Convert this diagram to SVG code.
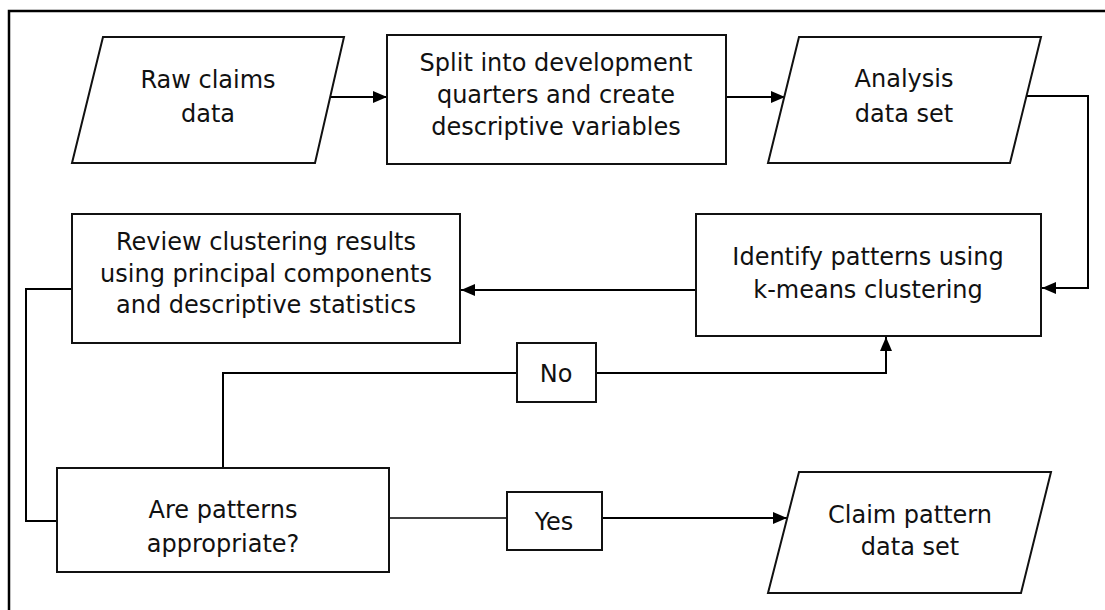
<svg xmlns="http://www.w3.org/2000/svg" width="1105" height="610" viewBox="0 0 1105 610">
  <defs>
    <marker id="arrow" viewBox="0 0 14 12" refX="14" refY="6" markerWidth="14" markerHeight="12" markerUnits="userSpaceOnUse" orient="auto">
      <path d="M0,0 L14,6 L0,12 Z" fill="#000"/>
    </marker>
    <style>
      .shape { fill: #fff; stroke: #111; stroke-width: 2; }
      .label { font-family: "DejaVu Sans", "Liberation Sans", sans-serif; font-size: 24px; fill: #111; text-anchor: middle; }
      .conn { fill: none; stroke: #000; stroke-width: 2; }
      .thin { stroke-width: 1.6; }
      .frame { fill: none; stroke: #000; stroke-width: 2.5; }
    </style>
  </defs>

  <rect width="1105" height="610" fill="#fff"/>
  <!-- page frame: top and left edges -->
  <path class="frame" d="M9,610 V11 H1105"/>

  <g id="connectors">
    <path class="conn" d="M330,97 H387" marker-end="url(#arrow)"/>
    <path class="conn" d="M727,97 H785" marker-end="url(#arrow)"/>
    <path class="conn" d="M1026,96 H1088 V288 H1042" marker-end="url(#arrow)"/>
    <path class="conn" d="M696,290 H461" marker-end="url(#arrow)"/>
    <path class="conn" d="M72,289 H26 V521 H57"/>
    <path class="conn" d="M223,468 V373 H517"/>
    <path class="conn" d="M596,373 H886 V337" marker-end="url(#arrow)"/>
    <path class="conn thin" d="M389,518 H507"/>
    <path class="conn" d="M602,518 H787" marker-end="url(#arrow)"/>
  </g>

  <g id="raw-claims">
    <polygon class="shape" points="103,37 344,37 315,163 72,163"/>
    <text class="label" x="208" y="88">Raw claims</text>
    <text class="label" x="208" y="122">data</text>
  </g>

  <g id="split">
    <rect class="shape" x="387" y="35" width="339" height="129"/>
    <text class="label" x="556" y="71">Split into development</text>
    <text class="label" x="556" y="103">quarters and create</text>
    <text class="label" x="556" y="135">descriptive variables</text>
  </g>

  <g id="analysis-data">
    <polygon class="shape" points="799,37 1041,37 1010,163 768,163"/>
    <text class="label" x="904" y="87">Analysis</text>
    <text class="label" x="904" y="122">data set</text>
  </g>

  <g id="identify">
    <rect class="shape" x="696" y="214" width="345" height="122"/>
    <text class="label" x="868" y="265">Identify patterns using</text>
    <text class="label" x="868" y="298">k-means clustering</text>
  </g>

  <g id="review">
    <rect class="shape" x="72" y="214" width="388" height="129"/>
    <text class="label" x="266" y="250">Review clustering results</text>
    <text class="label" x="266" y="282">using principal components</text>
    <text class="label" x="266" y="313">and descriptive statistics</text>
  </g>

  <g id="decision">
    <rect class="shape" x="57" y="468" width="332" height="104"/>
    <text class="label" x="223" y="518">Are patterns</text>
    <text class="label" x="223" y="552">appropriate?</text>
  </g>

  <g id="no-label">
    <rect class="shape" x="517" y="343" width="79" height="59"/>
    <text class="label" x="556" y="382">No</text>
  </g>

  <g id="yes-label">
    <rect class="shape" x="507" y="492" width="95" height="58"/>
    <text class="label" x="554" y="530">Yes</text>
  </g>

  <g id="claim-pattern-data">
    <polygon class="shape" points="799,472 1051,472 1021,593 768,593"/>
    <text class="label" x="910" y="523">Claim pattern</text>
    <text class="label" x="910" y="555">data set</text>
  </g>
</svg>
